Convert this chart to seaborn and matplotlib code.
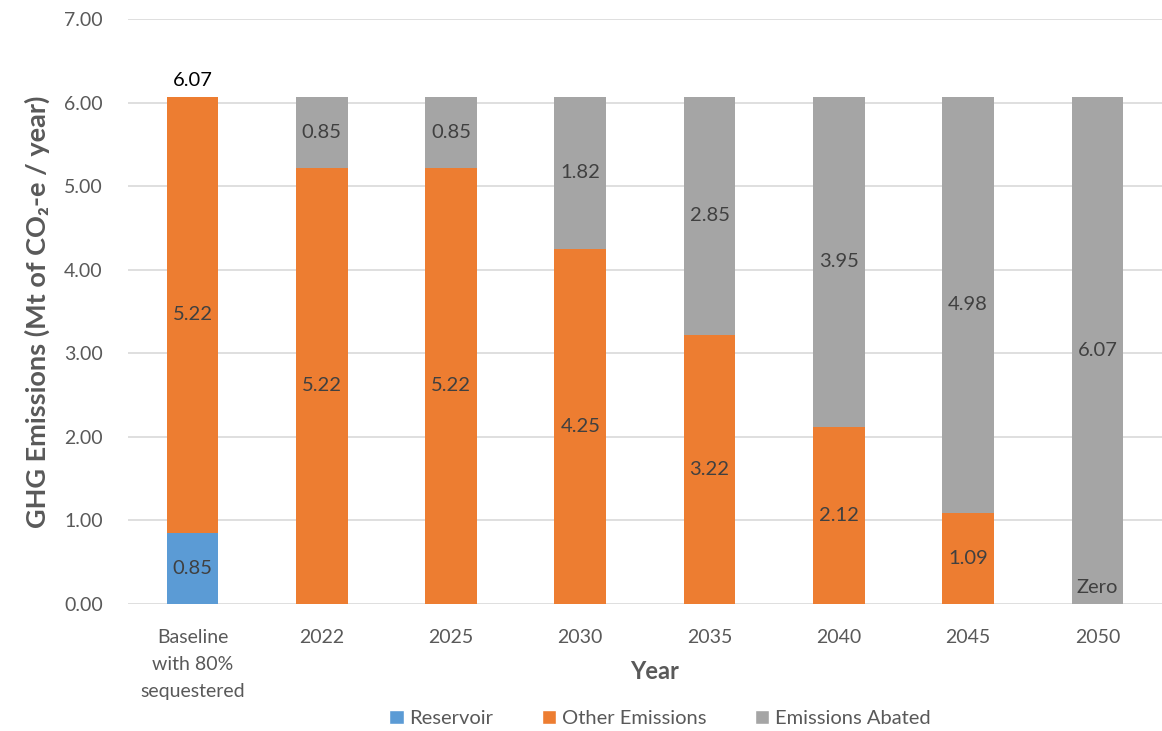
import numpy as np
import pandas as pd
import matplotlib.pyplot as plt
import seaborn as sns
from matplotlib.patches import Patch

# chart values
categories = ["Baseline\nwith 80%\nsequestered", "2022", "2025", "2030", "2035", "2040", "2045", "2050"]
reservoir = [0.85, 0, 0, 0, 0, 0, 0, 0]
other_emissions = [5.22, 5.22, 5.22, 4.25, 3.22, 2.12, 1.09, 0]
emissions_abated = [0, 0.85, 0.85, 1.82, 2.85, 3.95, 4.98, 6.07]
baseline_total = 6.07

colors = {"Reservoir": "#5B9BD5", "Other Emissions": "#ED7D31", "Emissions Abated": "#A5A5A5"}
label_color = "#404040"
tick_color = "#595959"

sns.set_style("white")
plt.rcParams["font.family"] = ["Lato", "DejaVu Sans"]

df = pd.DataFrame({
    "category": categories,
    "reservoir": reservoir,
    "other": other_emissions,
    "abated": emissions_abated,
})
# cumulative heights so that layers can be overlaid front to back
df["cum_other"] = df["reservoir"] + df["other"]
df["cum_abated"] = df["cum_other"] + df["abated"]

fig = plt.figure(figsize=(11.62, 7.31), dpi=100)
ax = fig.add_axes([0.110, 0.1737, 0.890, 0.800])

sns.barplot(data=df, x="category", y="cum_abated", color=colors["Emissions Abated"],
            width=0.4, saturation=1, linewidth=0, ax=ax)
sns.barplot(data=df, x="category", y="cum_other", color=colors["Other Emissions"],
            width=0.4, saturation=1, linewidth=0, ax=ax)
sns.barplot(data=df, x="category", y="reservoir", color=colors["Reservoir"],
            width=0.4, saturation=1, linewidth=0, ax=ax)

# data labels in the middle of each segment
fs = 14.5
for i, row in df.iterrows():
    if row["reservoir"] > 0:
        ax.text(i, row["reservoir"] / 2, f"{row['reservoir']:.2f}", ha="center", va="center",
                fontsize=fs, color=label_color)
    if row["other"] > 0:
        ax.text(i, row["reservoir"] + row["other"] / 2, f"{row['other']:.2f}", ha="center",
                va="center", fontsize=fs, color=label_color)
    else:
        ax.text(i, 0.1, "Zero", ha="center", va="bottom", fontsize=fs, color=label_color)
    if row["abated"] > 0:
        ax.text(i, row["cum_other"] + row["abated"] / 2, f"{row['abated']:.2f}", ha="center",
                va="center", fontsize=fs, color=label_color)

ax.text(0, baseline_total + 0.09, f"{baseline_total:.2f}", ha="center", va="bottom",
        fontsize=fs, color="black")

ax.set_ylim(0, 7)
ax.set_xlim(-0.5, 7.5)
ax.set_yticks(np.arange(0, 8, 1))
ax.set_yticklabels([f"{v:.2f}" for v in np.arange(0, 8, 1)])
ax.yaxis.grid(True, color="#D9D9D9", linewidth=1.2)
ax.set_axisbelow(True)
for s in ax.spines.values():
    s.set_visible(False)
ax.tick_params(axis="both", length=0, labelsize=14, colors=tick_color)
ax.tick_params(axis="y", pad=18)
ax.tick_params(axis="x", pad=18)
for lbl in ax.get_xticklabels():
    lbl.set_linespacing(1.7)

ax.set_xlabel("Year", fontsize=17, fontweight="bold", color=tick_color, va="center")
ax.xaxis.set_label_coords(0.509, -0.116)
ax.set_ylabel("GHG Emissions (Mt of CO₂-e / year)", fontsize=19.5, fontweight="bold",
              color=tick_color, labelpad=10)

handles = [Patch(facecolor=c, label=k) for k, c in colors.items()]
fig.legend(handles=handles, loc="lower center", ncol=3, frameon=False, fontsize=14.5,
           labelcolor=tick_color, bbox_to_anchor=(0.568, -0.02), handlelength=0.7,
           handleheight=0.7, handletextpad=0.3, columnspacing=2.4)

plt.savefig("out.png", dpi=100)
